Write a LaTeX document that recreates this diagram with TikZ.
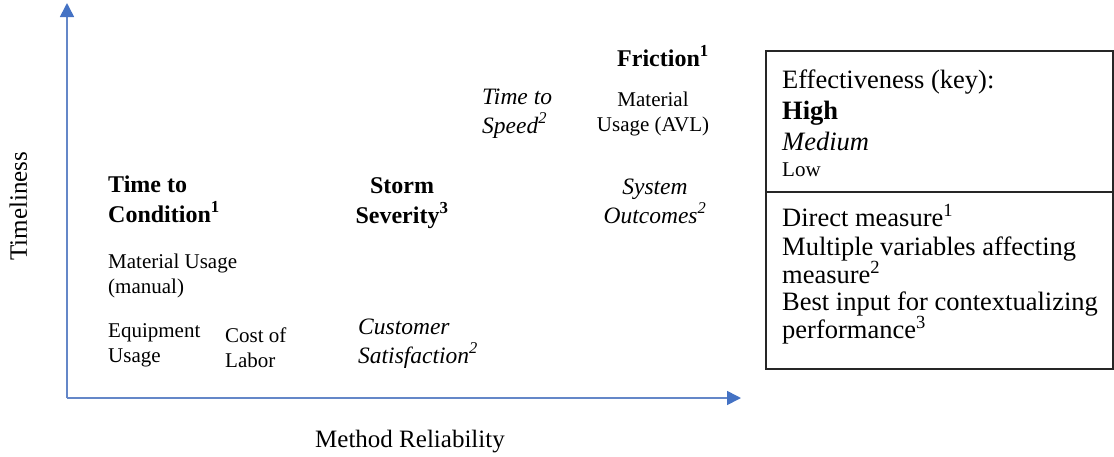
\documentclass[tikz,border=0pt]{standalone}
\usepackage{fontspec}
\setmainfont{Liberation Serif}
\usetikzlibrary{arrows.meta}
\definecolor{axisblue}{RGB}{100,135,200}
\definecolor{tipblue}{RGB}{68,114,196}
\begin{document}
\begin{tikzpicture}[x=1pt,y=-1pt,
  txt/.style={inner sep=0pt, anchor=base west, align=left},
  reg/.style={txt, font=\fontsize{21}{25}\selectfont},
  ital/.style={txt, font=\fontsize{23.5}{29}\selectfont\itshape},
  bld/.style={txt, font=\fontsize{24}{30}\selectfont\bfseries},
  keytxt/.style={txt, font=\fontsize{26.5}{28}\selectfont},
  axis/.style={draw=axisblue, line width=1.6pt,
    -{Triangle[width=14pt,length=14pt,color=tipblue]}},
  keybox/.style={draw=black!85, line width=1.5pt, inner sep=0pt, anchor=north west}
]
\useasboundingbox (0,0) rectangle (1114,456);
% axes
\coordinate (o) at (67,398);
\coordinate (ytop) at (67,3);
\coordinate (xend) at (741,398);
\draw[axis] (o) -- (ytop);
\draw[axis] (o) -- (xend);
\node[inner sep=0pt, anchor=base, rotate=90, font=\fontsize{25}{30}\selectfont] (ylab) at (27,206) {Timeliness};
\node[inner sep=0pt, anchor=base, font=\fontsize{25}{30}\selectfont] (xlab) at (410,447) {Method Reliability};
% plotted measures (anchor = baseline of last line)
\node[bld] (ttc) at (108,222) {Time to\\Condition\textsuperscript{1}};
\node[reg] (mum) at (108,293) {Material Usage\\(manual)};
\node[reg] (equ) at (108,362) {Equipment\\Usage};
\node[reg] (col) at (225,367) {Cost of\\Labor};
\node[ital] (cus) at (358,363) {Customer\\Satisfaction\textsuperscript{2}};
\node[bld, anchor=base, align=center] (sto) at (402,223) {Storm\\Severity\textsuperscript{3}};
\node[ital] (tts) at (482,133) {Time to\\Speed\textsuperscript{2}};
\node[bld] (fri) at (617,66) {Friction\textsuperscript{1}};
\node[reg, anchor=base, align=center] (mua) at (653,131) {Material\\Usage (AVL)};
\node[ital, anchor=base, align=center] (sys) at (655,223) {System\\Outcomes\textsuperscript{2}};
% key
\node[keybox, minimum width=347pt, minimum height=141pt] (keytop) at (765,50) {};
\node[keybox, minimum width=347pt, minimum height=177pt] (keybot) at (765,191) {};
\node[keytxt] (k1) at (782,88) {Effectiveness (key):};
\node[keytxt, font=\fontsize{26.5}{28}\selectfont\bfseries] (k2) at (782,119) {High};
\node[keytxt, font=\fontsize{26.5}{28}\selectfont\itshape] (k3) at (782,150) {Medium};
\node[keytxt, font=\fontsize{21}{25}\selectfont] (k4) at (782,176) {Low};
\node[keytxt] (k5) at (782,226) {Direct measure\textsuperscript{1}};
\node[keytxt] (k6) at (782,283) {Multiple variables affecting\\measure\textsuperscript{2}};
\node[keytxt] (k7) at (782,338) {Best input for contextualizing\\performance\textsuperscript{3}};
\end{tikzpicture}
\end{document}
